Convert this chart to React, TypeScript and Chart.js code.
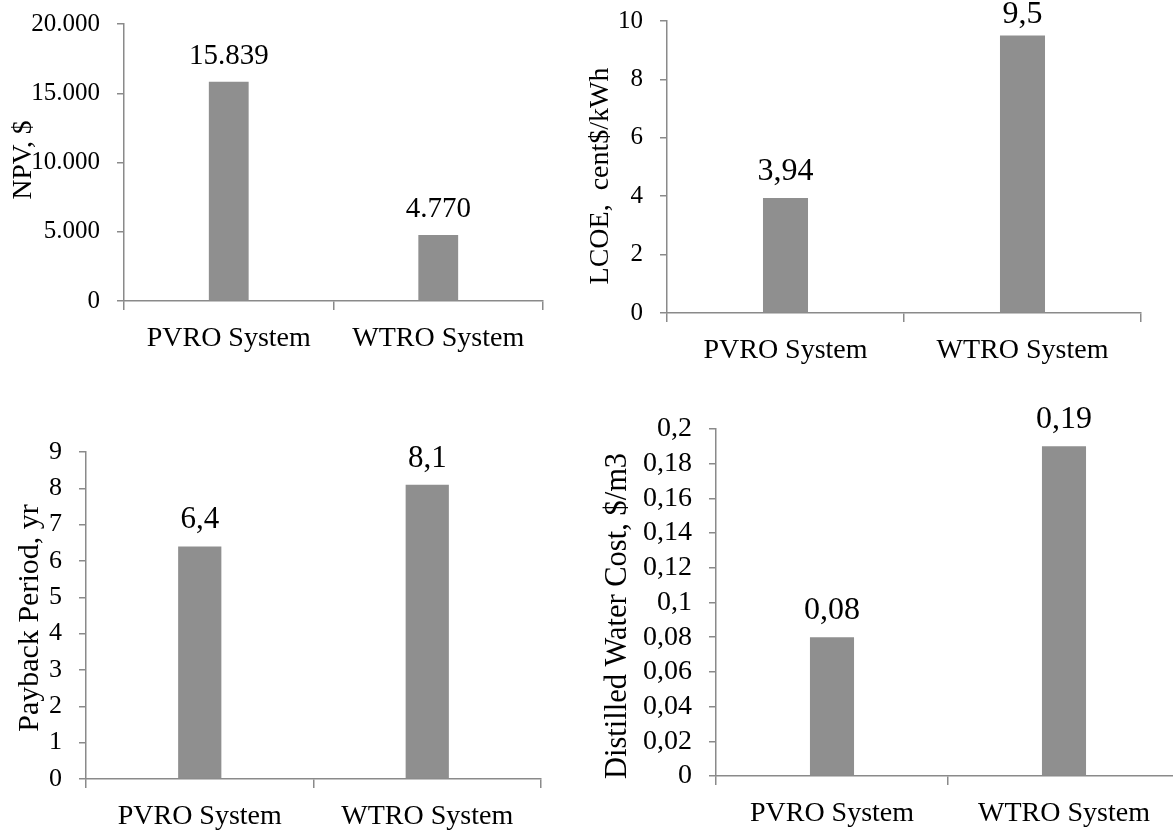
import { useEffect, useRef } from 'react';
import { Chart, registerables } from 'chart.js';

Chart.register(...registerables);

// ---- data ----
const systems = ['PVRO System', 'WTRO System'];

const npvValues = [15839, 4770];
const lcoeValues = [3.94, 9.5];
const paybackValues = [6.4, 8.1];
const waterCostValues = [0.08, 0.19];

const npvTicks = ['0', '5.000', '10.000', '15.000', '20.000'];
const lcoeTicks = ['0', '2', '4', '6', '8', '10'];
const paybackTicks = ['0', '1', '2', '3', '4', '5', '6', '7', '8', '9'];
const waterCostTicks = ['0', '0,02', '0,04', '0,06', '0,08', '0,1', '0,12', '0,14', '0,16', '0,18', '0,2'];

// ---- styling ----
const FONT = "'Liberation Serif', 'Times New Roman', serif";
const BAR_COLOR = '#8f8f8f';
const AXIS_COLOR = '#8a8a8a';

const thousandsDot = (v: number) => String(v).replace(/\B(?=(\d{3})+(?!\d))/g, '.');
const decimalComma = (v: number) => String(v).replace('.', ',');

type Panel = {
  title: string;
  values: number[];
  format: (v: number) => string;
  ticks: string[];
  max: number;
  step: number;
  box: { x: number; y: number; w: number; h: number };
  area: { left: number; top: number; right: number; bottom: number };
  titlePos: { x: number; y: number };
  sizes: { tick: number; cat: number; value: number; title: number };
};

const panels: Panel[] = [
  {
    title: 'NPV, $',
    values: npvValues,
    format: thousandsDot,
    ticks: npvTicks,
    max: 20000,
    step: 5000,
    box: { x: 0, y: 0, w: 580, h: 380 },
    area: { left: 124, top: 24, right: 543, bottom: 301 },
    titlePos: { x: 24, y: 160 },
    sizes: { tick: 25, cat: 28, value: 29, title: 27.5 },
  },
  {
    title: 'LCOE,  cent$/kWh',
    values: lcoeValues,
    format: decimalComma,
    ticks: lcoeTicks,
    max: 10,
    step: 2,
    box: { x: 580, y: 0, w: 593, h: 390 },
    area: { left: 87, top: 21, right: 561, bottom: 313 },
    titlePos: { x: 21, y: 176 },
    sizes: { tick: 25, cat: 28, value: 32, title: 28 },
  },
  {
    title: 'Payback Period, yr',
    values: paybackValues,
    format: decimalComma,
    ticks: paybackTicks,
    max: 9,
    step: 1,
    box: { x: 0, y: 400, w: 580, h: 431 },
    area: { left: 86, top: 52, right: 541, bottom: 379 },
    titlePos: { x: 30, y: 218 },
    sizes: { tick: 26, cat: 28, value: 31, title: 30 },
  },
  {
    title: 'Distilled Water Cost, $/m3',
    values: waterCostValues,
    format: decimalComma,
    ticks: waterCostTicks,
    max: 0.2,
    step: 0.02,
    box: { x: 580, y: 400, w: 620, h: 431 },
    area: { left: 136, top: 29, right: 600, bottom: 376 },
    titlePos: { x: 38, y: 216 },
    sizes: { tick: 28, cat: 28, value: 32, title: 30.5 },
  },
];

// Draws the value above each bar and the rotated axis title.
const annotatePlugin = {
  id: 'annotate',
  afterDatasetsDraw(chart: any, _args: any, opts: any) {
    const ctx = chart.ctx as CanvasRenderingContext2D;
    const meta = chart.getDatasetMeta(0);
    const data = chart.data.datasets[0].data as number[];
    ctx.save();
    ctx.fillStyle = '#000';
    ctx.font = `${opts.valueSize}px ${FONT}`;
    ctx.textAlign = 'center';
    ctx.textBaseline = 'alphabetic';
    meta.data.forEach((bar: any, i: number) => {
      const y = Math.max(bar.y - opts.gap, opts.valueSize * 0.72);
      ctx.fillText(opts.format(data[i]), bar.x, y);
    });
    ctx.translate(opts.titleX, opts.titleY);
    ctx.rotate(-Math.PI / 2);
    ctx.font = `${opts.titleSize}px ${FONT}`;
    ctx.textBaseline = 'middle';
    ctx.fillText(opts.title, 0, 0);
    ctx.restore();
  },
};

function BarPanel({ p }: { p: Panel }) {
  const ref = useRef<HTMLCanvasElement | null>(null);

  useEffect(() => {
    if (!ref.current) return;
    const { w, h } = p.box;
    const a = p.area;
    const chart = new Chart(ref.current, {
      type: 'bar',
      data: {
        labels: systems,
        datasets: [
          {
            data: p.values,
            backgroundColor: BAR_COLOR,
            borderWidth: 0,
            categoryPercentage: 1,
            barPercentage: 0.19,
          },
        ],
      },
      plugins: [annotatePlugin],
      options: {
        responsive: false,
        animation: false,
        devicePixelRatio: 1,
        layout: { padding: { left: 0, top: a.top, right: w - a.right, bottom: 0 } },
        plugins: {
          legend: { display: false },
          tooltip: { enabled: false },
          annotate: {
            gap: 18,
            format: p.format,
            valueSize: p.sizes.value,
            title: p.title,
            titleSize: p.sizes.title,
            titleX: p.titlePos.x,
            titleY: p.titlePos.y,
          },
        } as any,
        scales: {
          x: {
            grid: {
              drawOnChartArea: false,
              drawTicks: true,
              tickLength: 9,
              color: AXIS_COLOR,
              lineWidth: 1.5,
            },
            border: { display: true, color: AXIS_COLOR, width: 1.5 },
            ticks: {
              color: '#000',
              padding: 12,
              maxRotation: 0,
              autoSkip: false,
              font: { family: FONT, size: p.sizes.cat },
            },
            afterFit: (scale: any) => {
              scale.height = h - a.bottom;
              scale.paddingLeft = 0;
              scale.paddingRight = 0;
            },
          },
          y: {
            min: 0,
            max: p.max,
            grid: {
              drawOnChartArea: false,
              drawTicks: true,
              tickLength: 7,
              color: AXIS_COLOR,
              lineWidth: 1.5,
            },
            border: { display: true, color: AXIS_COLOR, width: 1.5 },
            ticks: {
              stepSize: p.step,
              color: '#000',
              padding: 17,
              autoSkip: false,
              font: { family: FONT, size: p.sizes.tick },
              callback: (_v: any, i: number) => p.ticks[i],
            },
            afterFit: (scale: any) => {
              scale.width = a.left;
              scale.paddingTop = 0;
              scale.paddingBottom = 0;
            },
          },
        },
      },
    });
    return () => chart.destroy();
  }, [p]);

  return (
    <canvas
      ref={ref}
      width={p.box.w}
      height={p.box.h}
      style={{
        position: 'absolute',
        left: p.box.x,
        top: p.box.y,
        width: p.box.w,
        height: p.box.h,
      }}
    />
  );
}

export default function App() {
  return (
    <div
      style={{
        position: 'fixed',
        left: 0,
        top: 0,
        width: 1173,
        height: 831,
        overflow: 'hidden',
        background: '#fff',
      }}
    >
      {panels.map((p) => (
        <BarPanel key={p.title} p={p} />
      ))}
    </div>
  );
}
